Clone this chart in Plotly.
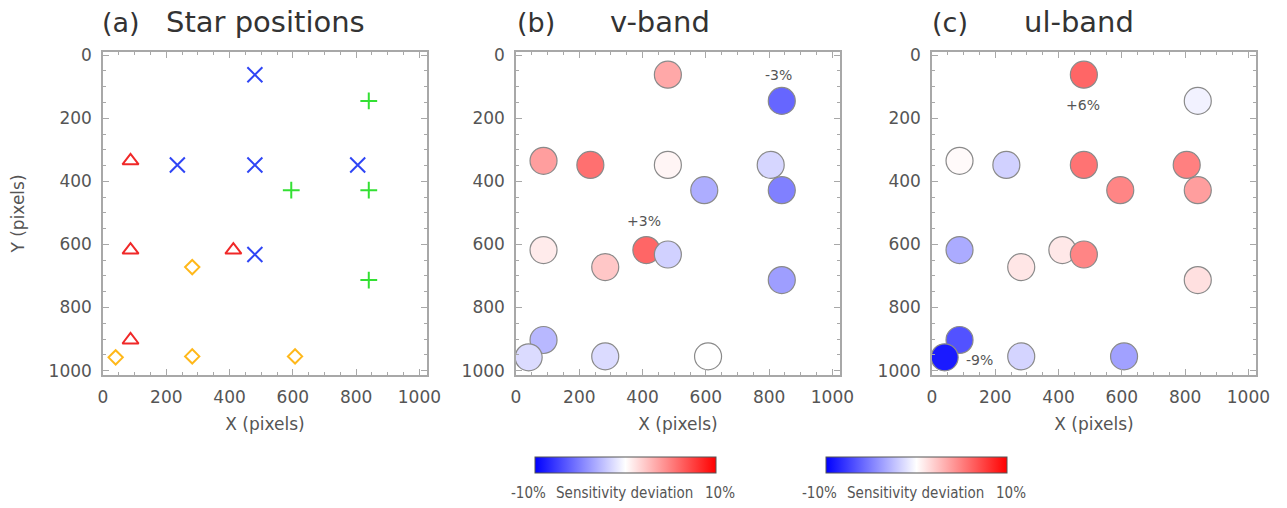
import numpy as np
import plotly.graph_objects as go

# ---- data (pixel positions of the stars) ----
blue_x = [480, 235, 480, 805, 480]
blue_y = [62, 348, 348, 348, 632]
green_x = [840, 595, 840, 840]
green_y = [145, 428, 428, 713]
red_x = [87, 87, 412, 87]
red_y = [335, 618, 618, 903]
yellow_x = [40, 282, 282, 607]
yellow_y = [958, 672, 955, 955]

# sensitivity deviations (%) per star, same order: blue, green, red, yellow
v_dev = [1.7, 2.8, 0.2, -0.8, -0.9,
         -3.0, -1.6, -2.5, -1.9,
         1.9, 0.4, 3.0, -1.4,
         -0.7, 1.1, -0.7, 0.0]
ul_dev = [6.0, -1.8, 5.5, 5.0, 4.8,
          -0.5, 4.8, 3.8, 1.2,
          0.2, -3.3, 0.9, -6.8,
          -9.0, 1.0, -1.7, -3.7]

tick_vals = [0, 200, 400, 600, 800, 1000]
cbar_min_label = "-10%"
cbar_max_label = "10%"
cbar_title = "Sensitivity deviation"

W, H = 1287, 508
FONT = "DejaVu Sans"
CBFONT = "DejaVu Sans Condensed, Noto Sans CJK JP"
GRAY = "#555555"
FRAME = "#a8a8a8"

all_x = np.array(blue_x + green_x + red_x + yellow_x)
all_y = np.array(blue_y + green_y + red_y + yellow_y)
order = np.argsort(all_y, kind="stable")

cscale = [[0, "#0000ff"], [0.5, "#ffffff"], [1, "#ff0000"]]

fig = go.Figure()

# panel a
sym = dict(
    blue=("x-thin", "#2f45f5", 15, blue_x, blue_y),
    green=("cross-thin", "#33e033", 12, green_x, green_y),
    red=("triangle-up-open", "#f02828", 14, red_x, red_y),
    yellow=("diamond-open", "#ffb81a", 11, yellow_x, yellow_y),
)
for name, (s, c, sz, xs, ys) in sym.items():
    fig.add_trace(go.Scatter(
        x=xs, y=ys, mode="markers", xaxis="x", yaxis="y", showlegend=False,
        marker=dict(symbol=s, size=sz, color=c, line=dict(color=c, width=2)),
    ))

# panels b, c
for ax, dev, cmin, cmax in [("2", v_dev, -5, 5), ("3", ul_dev, -10, 10)]:
    d = np.array(dev)
    fig.add_trace(go.Scatter(
        x=all_x[order], y=all_y[order], mode="markers",
        xaxis="x" + ax, yaxis="y" + ax, showlegend=False,
        marker=dict(size=27, color=d[order], cmin=cmin, cmax=cmax,
                    colorscale=cscale, showscale=False,
                    line=dict(color="#8a8a8a", width=1.2)),
    ))

# colorbars
for ax, xc in [("2", 625.5 / W), ("3", 916.5 / W)]:
    fig.add_trace(go.Scatter(
        x=[None], y=[None], mode="markers", xaxis="x" + ax, yaxis="y" + ax,
        showlegend=False, hoverinfo="skip",
        marker=dict(color=[-10, 10], cmin=-10, cmax=10, colorscale=cscale,
                    showscale=True,
                    colorbar=dict(orientation="h", x=xc, xanchor="center",
                                  y=1 - 457 / H, yanchor="top", xpad=0, ypad=0,
                                  len=181, lenmode="pixels", thickness=16,
                                  outlinecolor="#555555", outlinewidth=1,
                                  showticklabels=False, ticks="")),
    ))

x_doms = [(103 / W, 427 / W), (516 / W, 840 / W), (932 / W, 1256 / W)]
y_dom = (1 - 375 / H, 1 - 52 / H)

def xaxis(dom, anchor):
    return dict(domain=dom, anchor=anchor, range=[0, 1024], tickvals=tick_vals,
                ticks="inside", ticklen=6, tickcolor=FRAME, tickwidth=1,
                minor=dict(dtick=50, tick0=0, ticks="inside", ticklen=3, tickcolor=FRAME),
                showline=True, linecolor=FRAME, linewidth=1.5, mirror="allticks",
                showgrid=False, zeroline=False, automargin=False,
                ticklabelstandoff=6,
                tickfont=dict(size=17, color=GRAY, family=FONT),
                title=dict(text="X (pixels)", standoff=12,
                           font=dict(size=17, color=GRAY, family=FONT)))

def yaxis(anchor, title):
    d = dict(domain=y_dom, anchor=anchor, range=[1014, -10], tickvals=tick_vals,
             ticks="inside", ticklen=6, tickcolor=FRAME, tickwidth=1,
             minor=dict(dtick=50, tick0=0, ticks="inside", ticklen=3, tickcolor=FRAME),
             showline=True, linecolor=FRAME, linewidth=1.5, mirror="allticks",
             showgrid=False, zeroline=False, automargin=False,
             ticklabelstandoff=6,
             tickfont=dict(size=17, color=GRAY, family=FONT))
    if title:
        d["title"] = dict(text="Y (pixels)", standoff=20,
                          font=dict(size=17, color=GRAY, family=FONT))
    return d

annots = []
def txt(x, y, t, size, color="#333333", xanchor="center", family=FONT):
    annots.append(dict(x=x, y=y, xref="paper", yref="paper", text=t, showarrow=False,
                       xanchor=xanchor, yanchor="middle",
                       font=dict(size=size, color=color, family=family)))

txt(100 / W, 1 - 22 / H, "(a)", 27, xanchor="left")
txt(265 / W, 1 - 22 / H, "Star positions", 29)
txt(515 / W, 1 - 22 / H, "(b)", 27, xanchor="left")
txt(660 / W, 1 - 22 / H, "v-band", 29)
txt(930 / W, 1 - 22 / H, "(c)", 27, xanchor="left")
txt(1079 / W, 1 - 22 / H, "ul-band", 29)

# colorbar labels
for x0 in (531, 822):
    dx = x0 - 531
    txt((528 + dx) / W, 1 - 493 / H, cbar_min_label, 15, GRAY, family=CBFONT)
    txt((624 + dx) / W, 1 - 493 / H, cbar_title, 15, GRAY, family=CBFONT)
    txt((720 + dx) / W, 1 - 493 / H, cbar_max_label, 15, GRAY, family=CBFONT)

for ax, x, y, t in [("2", 831, 64, "-3%"), ("2", 405, 525, "+3%"),
                    ("3", 476, 159, "+6%"), ("3", 150, 968, "-9%")]:
    annots.append(dict(x=x, y=y, xref="x" + ax, yref="y" + ax, text=t,
                       showarrow=False, font=dict(size=14, color=GRAY, family=FONT)))

fig.update_layout(
    width=W, height=H, margin=dict(l=0, r=0, t=0, b=0, autoexpand=False),
    paper_bgcolor="white", plot_bgcolor="white",
    xaxis=xaxis(x_doms[0], "y"), yaxis=yaxis("x", True),
    xaxis2=xaxis(x_doms[1], "y2"), yaxis2=yaxis("x2", False),
    xaxis3=xaxis(x_doms[2], "y3"), yaxis3=yaxis("x3", False),
    annotations=annots,
    font=dict(family=FONT),
)

fig.write_html("out.html")
